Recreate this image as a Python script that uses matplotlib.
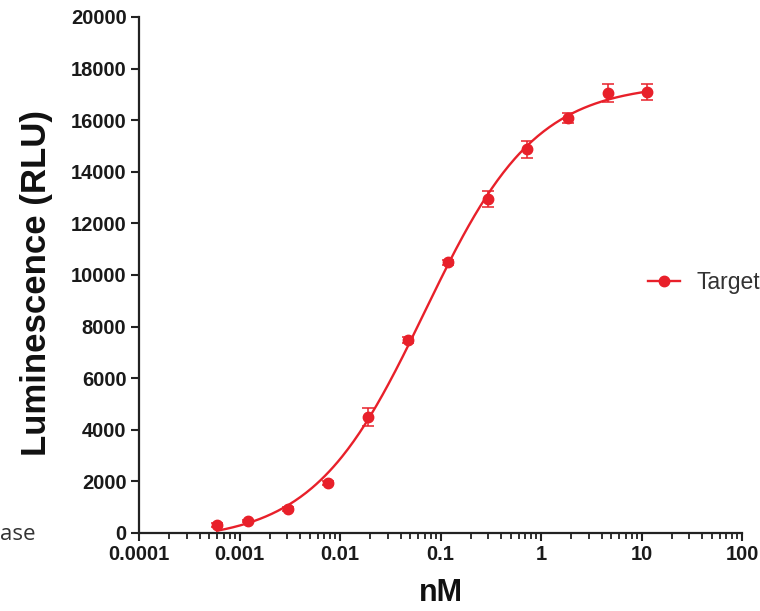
import numpy as np
import matplotlib
matplotlib.use("Agg")
import matplotlib.pyplot as plt
from matplotlib.ticker import FixedLocator, LogLocator, NullFormatter

# ---- data ----
conc_nM = [0.000597, 0.00122, 0.00304, 0.0076, 0.019, 0.0475, 0.119, 0.297, 0.726, 1.86, 4.64, 11.4]
lum_rlu = [310, 465, 930, 1940, 4500, 7480, 10500, 12950, 14880, 16090, 17050, 17090]
lum_err = [60, 50, 60, 80, 350, 120, 100, 320, 330, 195, 350, 310]
x_ticks = [0.0001, 0.001, 0.01, 0.1, 1, 10, 100]
x_tick_labels = ["0.0001", "0.001", "0.01", "0.1", "1", "10", "100"]
y_ticks = [0, 2000, 4000, 6000, 8000, 10000, 12000, 14000, 16000, 18000, 20000]
series_name = "Target"

RED = "#E8202A"
W, H = 760, 611

plt.rcParams["font.family"] = ["Liberation Sans", "DejaVu Sans"]

fig = plt.figure(figsize=(W / 100, H / 100), dpi=100)
ax = fig.add_axes([139 / W, 1 - 533 / H, (742 - 139) / W, (533 - 17) / H])

# 4-parameter logistic fit of the read points (curve as in the reference)
x = np.array(conc_nM)
y = np.array(lum_rlu, dtype=float)
logec = np.linspace(-1.6, -0.6, 201)[:, None, None]
hill = np.linspace(0.5, 1.5, 201)[None, :, None]
f = 1.0 / (1.0 + (10 ** logec / x[None, None, :]) ** hill)
n = len(x)
sf, sff = f.sum(-1), (f * f).sum(-1)
sy, sfy = y.sum(), (f * y).sum(-1)
den = n * sff - sf * sf
slope = (n * sfy - sf * sy) / den
inter = (sy - slope * sf) / n
resid = ((inter[..., None] + slope[..., None] * f - y) ** 2).sum(-1)
i, j = np.unravel_index(np.argmin(resid), resid.shape)
bottom, span = inter[i, j], slope[i, j]
ec50, h = 10 ** logec[i, 0, 0], hill[0, j, 0]
xc = np.logspace(np.log10(x.min()), np.log10(x.max()), 300)
yc = bottom + span / (1 + (ec50 / xc) ** h)

ax.plot(xc, yc, color=RED, lw=1.7, zorder=3)
ax.errorbar(conc_nM, lum_rlu, yerr=lum_err, fmt="o", color=RED, ms=7.5,
            elinewidth=1.1, capsize=4, capthick=1.1, zorder=4)

ax.set_xscale("log")
ax.set_xlim(0.0001, 100)
ax.set_ylim(0, 20000)
ax.xaxis.set_major_locator(FixedLocator(x_ticks))
ax.set_xticklabels(x_tick_labels)
ax.xaxis.set_minor_locator(LogLocator(base=10, subs=np.arange(2, 10)))
ax.xaxis.set_minor_formatter(NullFormatter())
ax.set_yticks(y_ticks)
ax.set_yticklabels([str(v) for v in y_ticks])

for s in ["top", "right"]:
    ax.spines[s].set_visible(False)
for s in ["left", "bottom"]:
    ax.spines[s].set_linewidth(1.6)
    ax.spines[s].set_color("#222222")
ax.tick_params(axis="both", which="major", direction="out", length=6, width=1.5,
               color="#222222", labelsize=14.5, pad=3)
ax.tick_params(axis="x", which="minor", direction="out", length=4, width=1.3, color="#222222")
for lab in ax.get_xticklabels() + ax.get_yticklabels():
    lab.set_fontweight("bold")
    lab.set_color("#1a1a1a")

ax.set_xlabel("nM", fontsize=22, fontweight="bold", labelpad=10, color="#111111")
ax.set_ylabel("Luminescence (RLU)", fontsize=25, fontweight="bold", labelpad=13, color="#111111")
ax.yaxis.label.set_y((533 - 283) / 516)

handle = plt.Line2D([], [], color=RED, lw=1.7, marker="o", ms=7.5)
fig.legend([handle], [series_name], loc="center left",
           bbox_to_anchor=(648 / W, 1 - 283 / H), frameon=False, fontsize=16.5,
           borderpad=0, borderaxespad=0,
           handlelength=1.4, handletextpad=0.7, labelcolor="#333333")

fig.text(0, 1 - 535 / H, "ase", fontsize=16, ha="left", va="center", color="#333333",
         family=["Open Sans", "DejaVu Sans"])

fig.savefig("out.png", dpi=100)
